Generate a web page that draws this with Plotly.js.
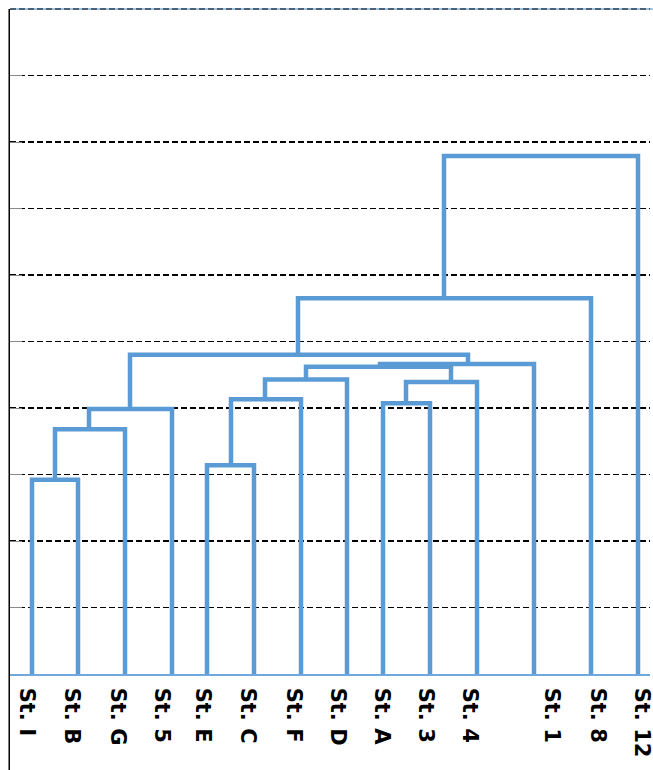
<!DOCTYPE html>
<html>
<head>
<meta charset="utf-8">
<script src="https://cdn.plot.ly/plotly-3.0.1.min.js"></script>
<style>html,body{margin:0;padding:0;background:#fff;}#chart{width:653px;height:770px;}</style>
</head>
<body>
<div id="chart"></div>
<script>
// Leaf labels and where their tick labels sit on the horizontal axis
var leafNames = ["St. I","St. B","St. G","St. 5","St. E","St. C","St. F","St. D","St. A","St. 3","St. 4","St. 1","St. 8","St. 12"];
var labelPos  = [17, 62, 108, 152, 193, 238, 284, 328, 372, 416, 460, 542, 588, 632];

// Dendrogram links (one U-shape each): left/right x, merge height, child heights
var linkLeftX   = [22,   45,   79,   197,  221,  255,  373,  396,  296,  370,  120,  288,  434];
var linkRightX  = [68,   115,  162,  244,  291,  337,  420,  467,  441,  524,  458,  581,  628];
var linkHeight  = [2.92, 3.68, 3.985,3.14, 4.13, 4.43, 4.07, 4.39, 4.62, 4.66, 4.80, 5.65, 7.79];
var linkLeftLo  = [0,    2.92, 3.68, 0,    3.14, 4.13, 0,    4.07, 4.43, 4.62, 3.985,4.80, 5.65];
var linkRightLo = [0,    0,    0,    0,    0,    0,    0,    0,    4.39, 0,    4.66, 0,    0];

var gridVals = [1,2,3,4,5,6,7,8,9];

var xs = [], ys = [];
for (var i = 0; i < linkLeftX.length; i++) {
  xs.push(linkLeftX[i], linkLeftX[i], linkRightX[i], linkRightX[i], null);
  ys.push(linkLeftLo[i], linkHeight[i], linkHeight[i], linkRightLo[i], null);
}

var trace = {
  x: xs, y: ys, type: 'scatter', mode: 'lines',
  line: {color: '#5b9bd5', width: 4.5},
  connectgaps: false, hoverinfo: 'skip', showlegend: false
};

var layout = {
  width: 653, height: 770,
  margin: {l: 10, r: 3, t: 9, b: 96, pad: 0},
  paper_bgcolor: '#ffffff', plot_bgcolor: '#ffffff',
  showlegend: false, hovermode: false,
  xaxis: {
    range: [0, 640], showgrid: false, zeroline: false,
    showline: true, linecolor: '#6fa8dc', linewidth: 1.5,
    tickmode: 'array', tickvals: labelPos, ticktext: leafNames,
    tickangle: 90, ticks: '', ticklabelstandoff: 8, ticklabeloverflow: 'allow',
    tickfont: {family: 'DejaVu Sans', size: 21, color: '#000', weight: 'bold'}
  },
  yaxis: {
    range: [0, 10], zeroline: false, showline: false,
    tickmode: 'array', tickvals: gridVals, showticklabels: false,
    ticks: 'inside', ticklen: 12, tickcolor: '#8a8a8a', tickwidth: 1,
    showgrid: true, gridcolor: '#000', gridwidth: 1.2, griddash: '6px,3px'
  },
  shapes: [
    {type: 'line', xref: 'paper', yref: 'paper', x0: 0, x1: 1.01, y0: 1, y1: 1,
     layer: 'below', line: {color: '#9fc5e8', width: 2}},
    {type: 'line', xref: 'paper', yref: 'paper', x0: 0, x1: 1, y0: 1, y1: 1,
     layer: 'above', line: {color: '#000', width: 1.2, dash: '6px,3px'}},
    {type: 'line', xref: 'paper', yref: 'paper', x0: -0.0012, x1: -0.0012, y0: -0.2, y1: 1,
     layer: 'above', line: {color: '#000', width: 1.5}}
  ]
};

Plotly.newPlot('chart', [trace], layout, {displayModeBar: false, staticPlot: true});
</script>
</body>
</html>
